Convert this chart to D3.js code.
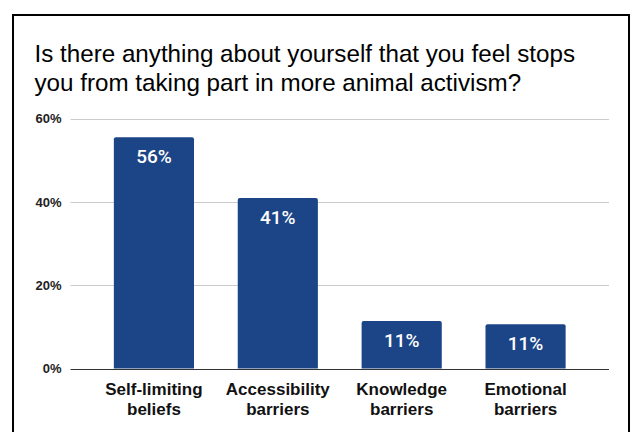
<!DOCTYPE html>
<html>
<head>
<meta charset="utf-8">
<script src="https://cdnjs.cloudflare.com/ajax/libs/d3/7.8.5/d3.min.js"></script>
<style>
  html, body { margin: 0; padding: 0; background: #fff; }
  svg { display: block; }
</style>
</head>
<body>
<svg id="chart" width="632" height="432"></svg>
<script>
const titleLines = ["Is there anything about yourself that you feel stops",
                    "you from taking part in more animal activism?"];
const categories = ["Self-limiting beliefs", "Accessibility barriers", "Knowledge barriers", "Emotional barriers"];
const categoryLines = [["Self-limiting", "beliefs"], ["Accessibility", "barriers"], ["Knowledge", "barriers"], ["Emotional", "barriers"]];
const values = [55.5, 40.9, 11.4, 10.6];
const valueLabels = ["56%", "41%", "11%", "11%"];
const yTicks = [0, 20, 40, 60];

(function () {
const svg = d3.select("#chart");
const W = 632, H = 432;
svg.append("rect").attr("width", W).attr("height", H).attr("fill", "#fff");

// border
svg.append("rect")
  .attr("x", 13).attr("y", 15)
  .attr("width", 616).attr("height", 440)
  .attr("fill", "none").attr("stroke", "#000").attr("stroke-width", 2);

// title
const title = svg.append("text")
  .attr("font-family", "'Liberation Sans', Arial, sans-serif")
  .attr("font-size", 24.2).attr("fill", "#000");
title.selectAll("tspan").data(titleLines).join("tspan")
  .attr("x", 34.5).attr("y", (d, i) => 62 + i * 28.5)
  .text(d => d);

const pLeft = 70.5, pRight = 609, pTop = 118.5, pBottom = 368.5;

const x = d3.scaleBand().domain(categories).range([pLeft, pRight])
  .paddingInner(0.353).paddingOuter(0.35);
const y = d3.scaleLinear().domain([0, 60]).range([pBottom, pTop]);

// gridlines
svg.append("g").selectAll("line").data(yTicks.filter(d => d > 0)).join("line")
  .attr("x1", pLeft).attr("x2", pRight)
  .attr("y1", d => Math.round(y(d)) + 0.5).attr("y2", d => Math.round(y(d)) + 0.5)
  .attr("stroke", "#cccccc").attr("stroke-width", 1);

// y axis labels
const yAxis = d3.axisLeft(y).tickValues(yTicks).tickFormat(d => d + "%").tickSize(0).tickPadding(9);
const gy = svg.append("g").attr("transform", `translate(${pLeft},0)`).call(yAxis);
gy.select(".domain").remove();
gy.selectAll("text")
  .attr("font-family", "'Liberation Sans', Arial, sans-serif")
  .attr("font-size", 13).attr("font-weight", "bold").attr("fill", "#222");

// bars with rounded top corners
const r = 2;
svg.append("g").selectAll("path").data(values).join("path")
  .attr("d", (d, i) => {
    const x0 = x(categories[i]), w = x.bandwidth(), y0 = y(d), yb = y(0);
    return `M${x0},${yb}V${y0 + r}Q${x0},${y0} ${x0 + r},${y0}H${x0 + w - r}Q${x0 + w},${y0} ${x0 + w},${y0 + r}V${yb}Z`;
  })
  .attr("fill", "#1c4587");

// value labels
svg.append("g").selectAll("text").data(values).join("text")
  .attr("x", (d, i) => x(categories[i]) + x.bandwidth() / 2)
  .attr("y", d => y(d) + 26)
  .attr("text-anchor", "middle")
  .attr("font-family", "Roboto, sans-serif")
  .attr("font-weight", 500)
  .attr("font-size", 19)
  .attr("fill", "#fff")
  .text((d, i) => valueLabels[i]);

// baseline
svg.append("line")
  .attr("x1", pLeft).attr("x2", pRight)
  .attr("y1", Math.round(y(0)) + 0.5).attr("y2", Math.round(y(0)) + 0.5)
  .attr("stroke", "#333").attr("stroke-width", 1);

// category labels
const cl = svg.append("g").selectAll("text").data(categories).join("text")
  .attr("text-anchor", "middle")
  .attr("font-family", "'Liberation Sans', Arial, sans-serif")
  .attr("font-size", 17).attr("font-weight", "bold").attr("fill", "#111");
cl.selectAll("tspan").data((d, i) => categoryLines[i].map(t => ({t, c: d}))).join("tspan")
  .attr("x", d => x(d.c) + x.bandwidth() / 2)
  .attr("y", (d, j) => 395 + j * 20)
  .text(d => d.t);
})();
</script>
</body>
</html>
